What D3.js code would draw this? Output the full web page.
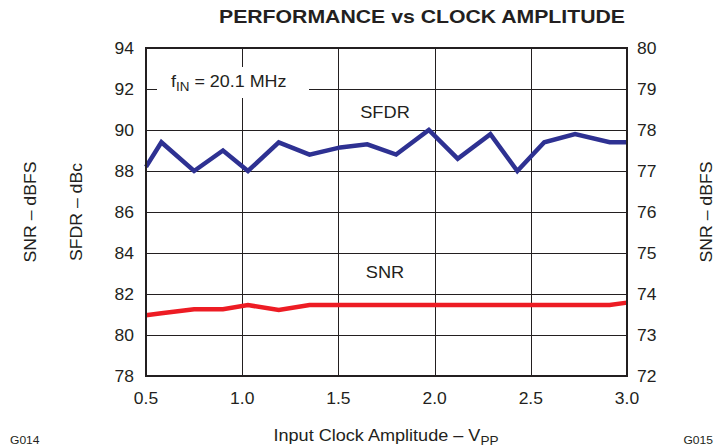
<!DOCTYPE html>
<html>
<head>
<meta charset="utf-8">
<script src="https://cdn.jsdelivr.net/npm/d3@7"></script>
<style>
  body { margin: 0; background: #fff; }
  text { font-family: "Liberation Sans", Arial, sans-serif; fill: #231f20; }
</style>
</head>
<body>
<script>
// clock amplitude (Vpp) sample points
const amplitude = [0.5, 0.58, 0.75, 0.9, 1.03, 1.19, 1.35, 1.51, 1.65, 1.8, 1.97, 2.12, 2.29, 2.43, 2.57, 2.73, 2.91, 3.0];
const sfdr = [88.2, 89.4, 88.0, 89.0, 88.0, 89.4, 88.8, 89.15, 89.3, 88.8, 90.0, 88.6, 89.8, 88.0, 89.4, 89.8, 89.4, 89.4];
const snr = [73.48, 73.53, 73.63, 73.63, 73.73, 73.61, 73.73, 73.73, 73.73, 73.73, 73.73, 73.73, 73.73, 73.73, 73.73, 73.73, 73.73, 73.79];

const xTicks = [0.5, 1.0, 1.5, 2.0, 2.5, 3.0];
const leftTicks = [78, 80, 82, 84, 86, 88, 90, 92, 94];
const rightTicks = [72, 73, 74, 75, 76, 77, 78, 79, 80];

// text drawn a bit wider than Liberation Sans, like the original Helvetica
function label(parent, x, y, size, anchor, sx) {
  return parent.append('g')
    .attr('transform', `translate(${x},${y}) scale(${sx},1)`)
    .append('text')
    .attr('text-anchor', anchor)
    .attr('font-size', size);
}

function main() {
  const width = 721;
  const height = 447;
  const m = { left: 146, top: 48, right: 627, bottom: 376 };
  const sx = 1.12;

  const svg = d3.select('body').append('svg')
    .attr('width', width)
    .attr('height', height);

  const x = d3.scaleLinear().domain([0.5, 3.0]).range([m.left, m.right]);
  const yL = d3.scaleLinear().domain([78, 94]).range([m.bottom, m.top]);
  const yR = d3.scaleLinear().domain([72, 80]).range([m.bottom, m.top]);

  // grid
  const grid = svg.append('g').attr('stroke', '#231f20').attr('stroke-width', 1);
  grid.selectAll('.vgrid')
    .data(xTicks)
    .enter()
    .append('line')
    .attr('x1', d => Math.round(x(d)) + 0.5)
    .attr('x2', d => Math.round(x(d)) + 0.5)
    .attr('y1', m.top)
    .attr('y2', m.bottom);
  grid.selectAll('.hgrid')
    .data(leftTicks)
    .enter()
    .append('line')
    .attr('x1', m.left)
    .attr('x2', m.right)
    .attr('y1', d => Math.round(yL(d)) + 0.5)
    .attr('y2', d => Math.round(yL(d)) + 0.5);

  // label box for f_IN
  svg.append('rect')
    .attr('x', 157).attr('y', 67)
    .attr('width', 152).attr('height', 31)
    .attr('fill', '#fff');

  const fin = label(svg, 171, 87, 16, 'start', sx);
  fin.append('tspan').text('f');
  fin.append('tspan').attr('font-size', 12).attr('dy', 4).text('IN');
  fin.append('tspan').attr('dy', -4).text(' = 20.1 MHz');

  // lines
  const lineL = d3.line().x((d, i) => x(amplitude[i])).y(d => yL(d));
  const lineR = d3.line().x((d, i) => x(amplitude[i])).y(d => yR(d));

  svg.append('path')
    .attr('d', lineL(sfdr))
    .attr('fill', 'none')
    .attr('stroke', '#2e3192')
    .attr('stroke-width', 4.5);

  svg.append('path')
    .attr('d', lineR(snr))
    .attr('fill', 'none')
    .attr('stroke', '#ed1c24')
    .attr('stroke-width', 4.5);

  // frame
  svg.append('rect')
    .attr('x', m.left)
    .attr('y', m.top)
    .attr('width', m.right - m.left)
    .attr('height', m.bottom - m.top)
    .attr('fill', 'none')
    .attr('stroke', '#231f20')
    .attr('stroke-width', 2);

  // tick labels
  leftTicks.forEach(d => label(svg, 134, yL(d) + 6, 16.5, 'end', 1.06).text(d));
  rightTicks.forEach(d => label(svg, 637, yR(d) + 6, 16.5, 'start', 1.06).text(d));
  xTicks.forEach(d => label(svg, x(d), 404, 16.5, 'middle', 1.06).text(d.toFixed(1)));

  // series labels
  label(svg, 385, 118, 16, 'middle', 1.14).text('SFDR');
  label(svg, 385, 278, 16, 'middle', 1.14).text('SNR');

  // title
  label(svg, 422, 23, 18, 'middle', 1.18)
    .attr('font-weight', 'bold')
    .text('PERFORMANCE vs CLOCK AMPLITUDE');

  // rotated axis titles
  const rot = [[36, 'SNR \u2013 dBFS'], [82, 'SFDR \u2013 dBc'], [712, 'SNR \u2013 dBFS']];
  rot.forEach(([cx, t]) => {
    svg.append('text')
      .attr('transform', `translate(${cx},212) rotate(-90)`)
      .attr('text-anchor', 'middle')
      .attr('font-size', 16)
      .attr('textLength', 101)
      .attr('lengthAdjust', 'spacingAndGlyphs')
      .text(t);
  });
  svg.selectAll('text').filter(function () {
    return this.textContent === 'SFDR \u2013 dBc';
  }).attr('textLength', 98);

  // x axis title
  const xl = label(svg, 386, 441, 16, 'middle', 1.13);
  xl.append('tspan').text('Input Clock Amplitude \u2013 V');
  xl.append('tspan').attr('font-size', 12).attr('dy', 4).text('PP');

  label(svg, 10, 444, 11.5, 'start', 1.05).text('G014');
  label(svg, 713, 444, 11.5, 'end', 1.05).text('G015');
}

main();
</script>
</body>
</html>
